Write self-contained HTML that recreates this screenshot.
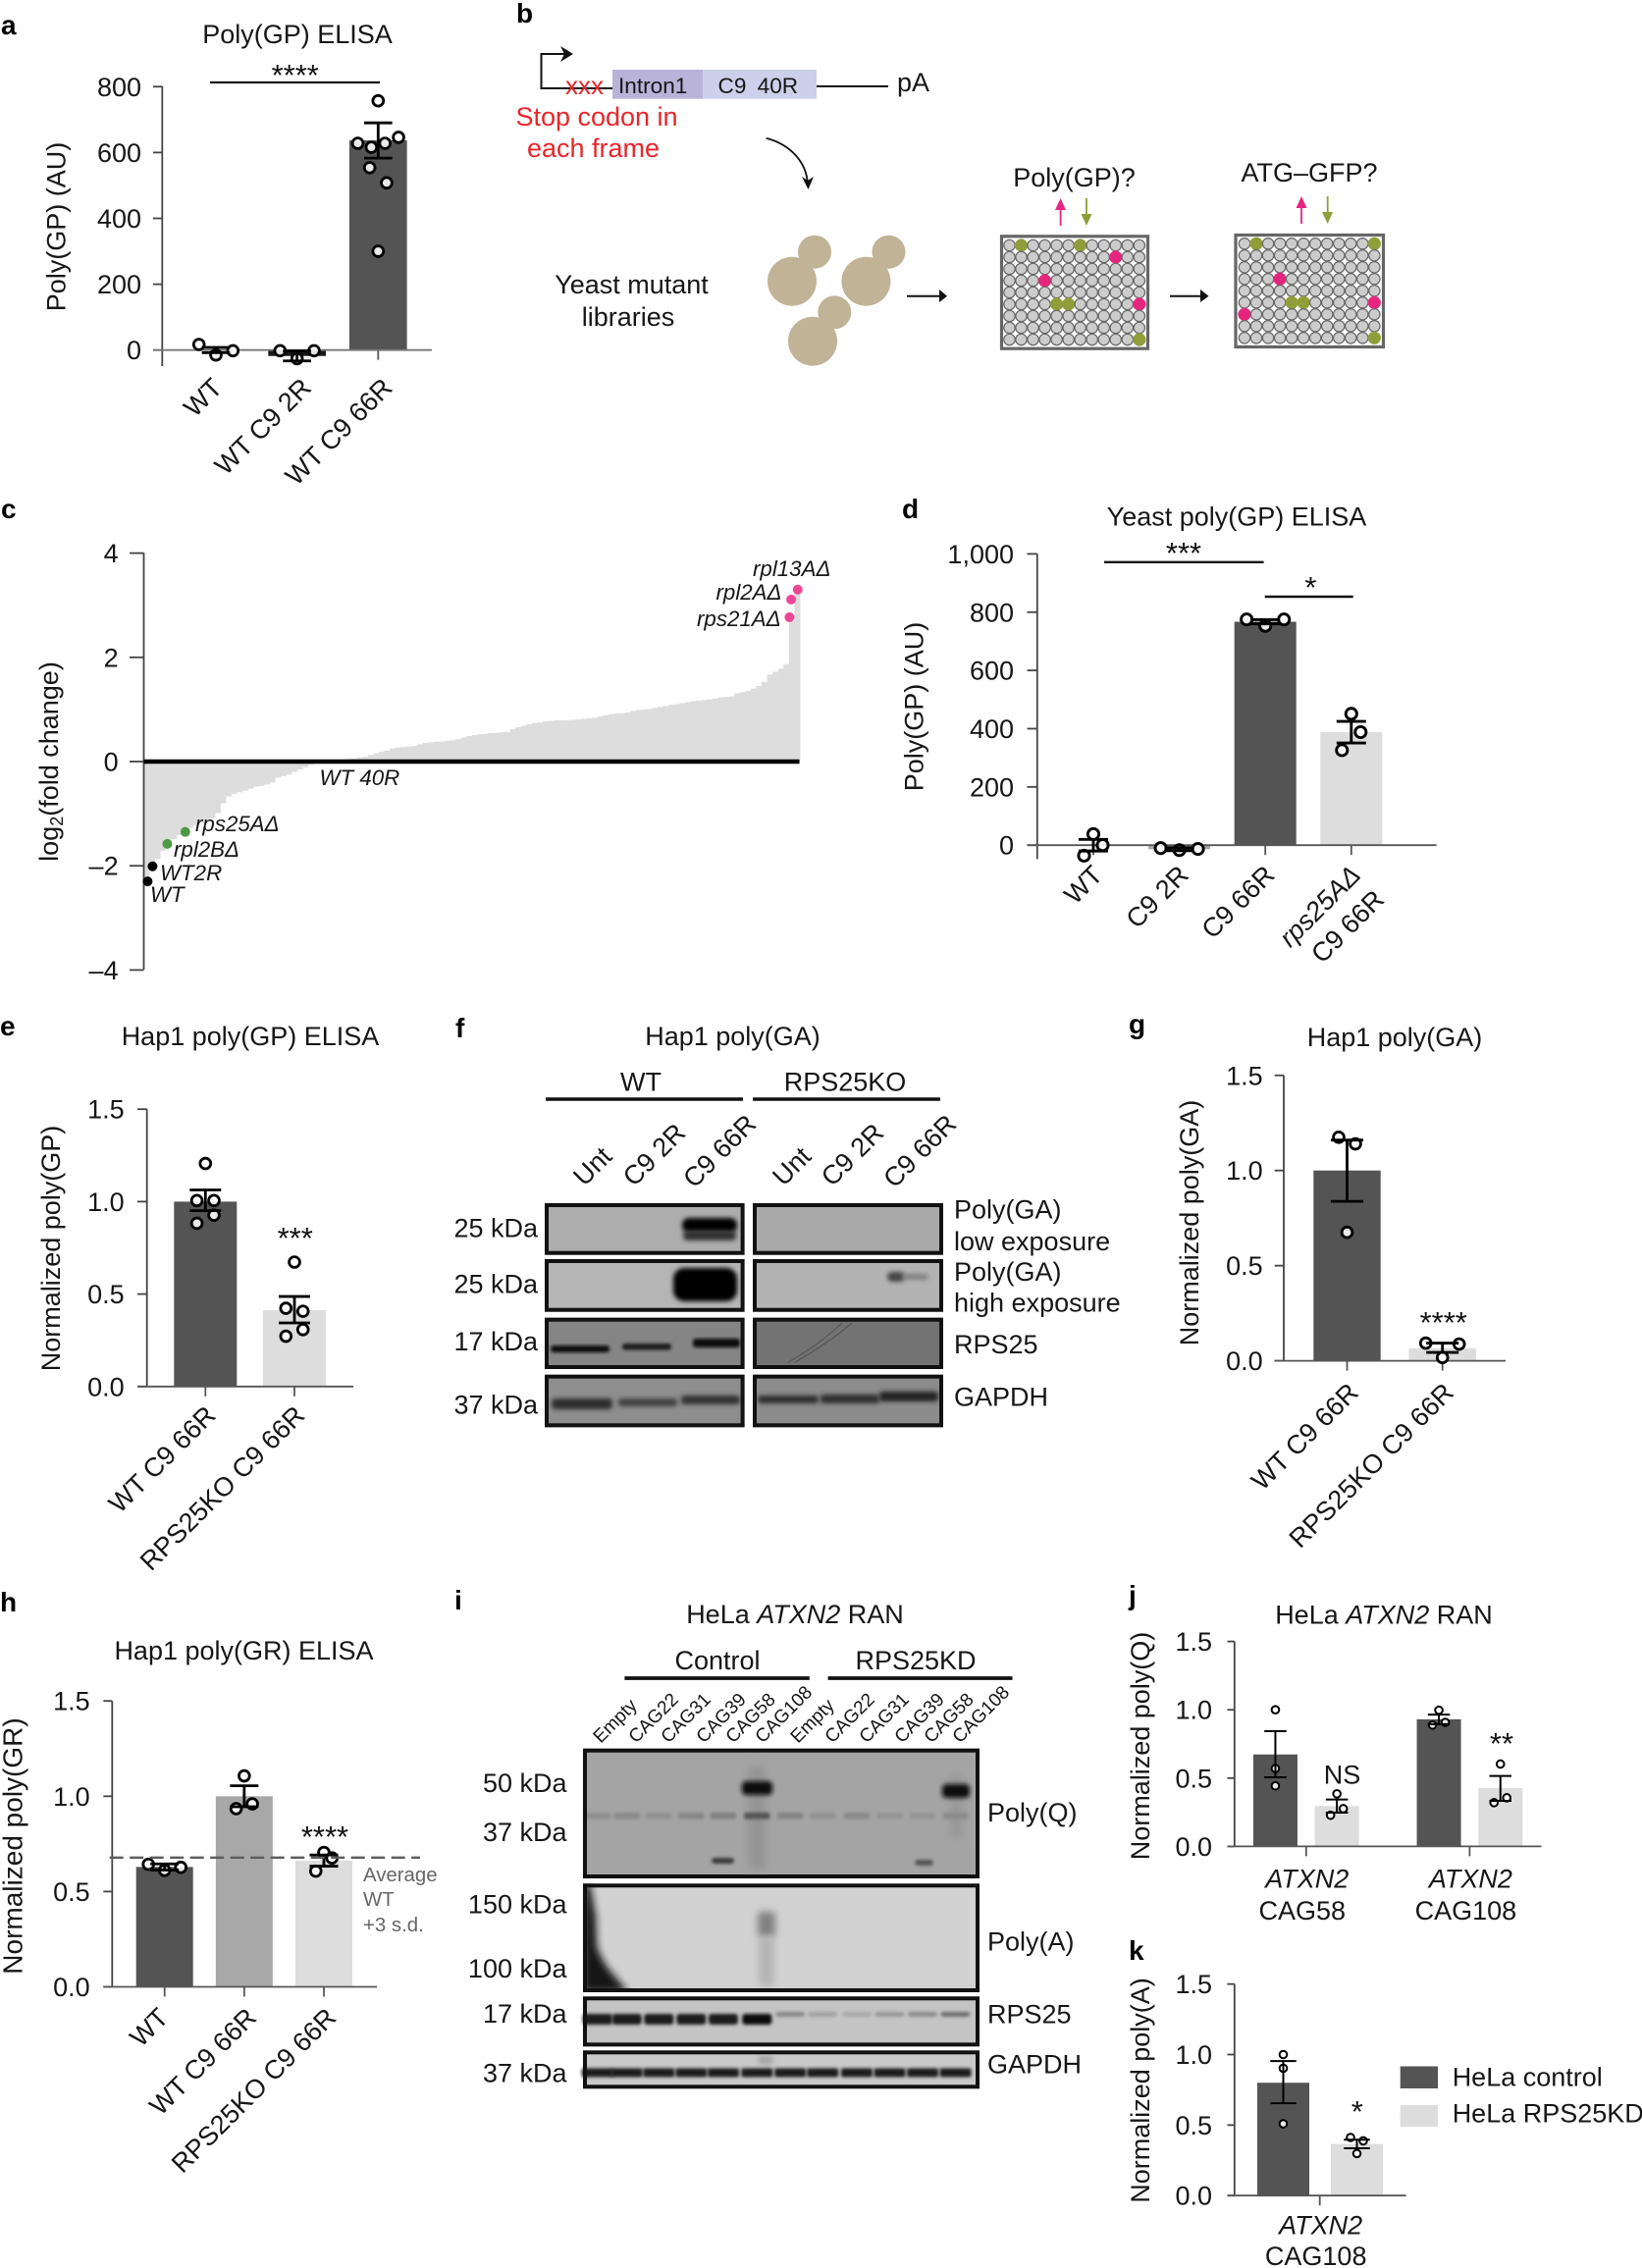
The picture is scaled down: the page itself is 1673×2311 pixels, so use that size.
<!DOCTYPE html>
<html lang="en">
<head>
<meta charset="utf-8">
<title>RPS25 figure</title>
<style>
html,body{margin:0;padding:0;background:#fff;}
svg{display:block;}
text{font-family:"Liberation Sans",sans-serif;font-size:27px;fill:#161616;}
.pl{font-weight:bold;font-size:28px;fill:#000;}
.it{font-style:italic;}
.ci{font-style:italic;font-size:22.3px;}
.st{font-size:31px;fill:#111;}
.mid{text-anchor:middle;}
.end{text-anchor:end;}
.sd{font-size:20.4px;fill:#666;}
</style>
</head>
<body>
<svg id="root" xmlns="http://www.w3.org/2000/svg" width="1673" height="2311" viewBox="0 0 1673 2311">
<defs>
<filter id="b1" x="-30%" y="-100%" width="160%" height="300%"><feGaussianBlur stdDeviation="1.5"/></filter>
<filter id="b2" x="-30%" y="-100%" width="160%" height="300%"><feGaussianBlur stdDeviation="2.4"/></filter>
<filter id="b4" x="-50%" y="-30%" width="200%" height="160%"><feGaussianBlur stdDeviation="4"/></filter>
<clipPath id="clipI2"><rect x="594" y="1919" width="404" height="111"/></clipPath>
</defs>
<rect x="0" y="0" width="1673" height="2311" fill="#fff"/>

<!-- panel labels -->
<text class="pl" x="1" y="35">a</text>
<text class="pl" x="526" y="23">b</text>
<text class="pl" x="1" y="528">c</text>
<text class="pl" x="919" y="528">d</text>
<text class="pl" x="0" y="1055">e</text>
<text class="pl" x="464" y="1057">f</text>
<text class="pl" x="1150" y="1053">g</text>
<text class="pl" x="0" y="1642">h</text>
<text class="pl" x="463" y="1640">i</text>
<text class="pl" x="1150" y="1635">j</text>
<text class="pl" x="1150" y="1997">k</text>

<!-- titles -->
<text class="mid" x="303" y="44">Poly(GP) ELISA</text>
<text class="mid" x="1260" y="535.6">Yeast poly(GP) ELISA</text>
<text class="mid" x="255" y="1065">Hap1 poly(GP) ELISA</text>
<text class="mid" x="746.5" y="1065">Hap1 poly(GA)</text>
<text class="mid" x="1421" y="1066">Hap1 poly(GA)</text>
<text class="mid" x="248.5" y="1691">Hap1 poly(GR) ELISA</text>
<text class="mid" x="810" y="1654">HeLa <tspan class="it">ATXN2</tspan> RAN</text>
<text class="mid" x="1410" y="1654.6">HeLa <tspan class="it">ATXN2</tspan> RAN</text>

<!-- y axis titles -->
<text class="mid" transform="translate(66.7,231) rotate(-90)">Poly(GP) (AU)</text>
<text class="mid" transform="translate(59,776) rotate(-90)">log<tspan dy="5" font-size="18">2</tspan><tspan dy="-5">(fold change)</tspan></text>
<text class="mid" transform="translate(940.5,720) rotate(-90)">Poly(GP) (AU)</text>
<text class="mid" transform="translate(61,1272) rotate(-90)">Normalized poly(GP)</text>
<text class="mid" transform="translate(1221,1246) rotate(-90)">Normalized poly(GA)</text>
<text class="mid" transform="translate(22.7,1881) rotate(-90)" style="font-size:28px">Normalized poly(GR)</text>
<text class="mid" transform="translate(1171,1779) rotate(-90)">Normalized poly(Q)</text>
<text class="mid" transform="translate(1171,2130) rotate(-90)">Normalized poly(A)</text>

<!-- significance -->
<line x1="214" x2="387" y1="84" y2="84" stroke="#111" stroke-width="2.2"/>
<text class="st mid" x="300.7" y="87">****</text>
<line x1="1125" x2="1287.6" y1="572.8" y2="572.8" stroke="#111" stroke-width="2.4"/>
<text class="st mid" x="1206" y="574">***</text>
<line x1="1288.7" x2="1378.7" y1="608" y2="608" stroke="#111" stroke-width="2.4"/>
<text class="st mid" x="1335.4" y="609">*</text>
<text class="st mid" x="300.7" y="1272">***</text>
<text class="st mid" x="1470.7" y="1358">****</text>
<text class="st mid" x="331" y="1882">****</text>
<text class="mid" x="1367.5" y="1817.6">NS</text>
<text class="st mid" x="1530" y="1787">**</text>
<text class="st mid" x="1382.8" y="2162">*</text>

<!-- threshold annotation h -->
<text class="sd" x="370" y="1917">Average</text>
<text class="sd" x="370" y="1942">WT</text>
<text class="sd" x="370" y="1968">+3 s.d.</text>

<!-- legend -->
<rect x="1426.7" y="2105.5" width="38.3" height="22.5" fill="#545454"/>
<rect x="1426.7" y="2145" width="38.3" height="22" fill="#dddddd"/>
<text x="1479.7" y="2125.6">HeLa control</text>
<text x="1479.7" y="2162.7">HeLa RPS25KD</text>

<!-- panel b schematic -->
<g>
<path d="M576 55H551.5V90H624" fill="none" stroke="#111" stroke-width="2"/>
<polygon points="571,47 584,55 571,63 575,55" fill="#111"/>
<rect x="624" y="71" width="92" height="29.7" fill="#b9b3d9"/>
<rect x="716" y="71" width="116" height="29.7" fill="#cdd0ea"/>
<line x1="832" x2="905" y1="88" y2="88" stroke="#111" stroke-width="2"/>
<text x="630" y="95" style="font-size:22.6px">Intron1</text>
<text x="731.5" y="95" style="font-size:22.6px;word-spacing:5px">C9 40R</text>
<text x="914" y="93">pA</text>
<text x="576" y="96" style="font-size:26px;fill:#e8262a">xxx</text>
<text class="mid" x="608" y="128" style="fill:#e8262a">Stop codon in</text>
<text class="mid" x="604.5" y="160" style="fill:#e8262a">each frame</text>
<path d="M780.6 140.7C805 147 822 165 823 188" fill="none" stroke="#111" stroke-width="1.8"/>
<polygon points="817,180 823.5,193 829,180 823,184" fill="#111"/>
<text class="mid" x="643.5" y="299">Yeast mutant</text>
<text class="mid" x="640" y="332">libraries</text>
<g fill="#c0b396">
<circle cx="830" cy="256.7" r="17"/>
<circle cx="807" cy="286.7" r="25"/>
<circle cx="905.5" cy="256.7" r="17"/>
<circle cx="882.4" cy="286.7" r="25"/>
<circle cx="850.3" cy="318.3" r="17"/>
<circle cx="828" cy="347.7" r="25"/>
</g>
<line x1="924" x2="960" y1="301.7" y2="301.7" stroke="#111" stroke-width="2"/>
<polygon points="957,295 965,301.7 957,308" fill="#111"/>
<line x1="1192" x2="1226" y1="301.7" y2="301.7" stroke="#111" stroke-width="2"/>
<polygon points="1223,295 1231.5,301.7 1223,308" fill="#111"/>
<text class="mid" x="1094.5" y="190">Poly(GP)?</text>
<text class="mid" x="1334" y="185">ATG–GFP?</text>
<line x1="1080.6" x2="1080.6" y1="210" y2="230" stroke="#e6267e" stroke-width="1.8"/>
<polygon points="1075,214 1080.6,202 1086,214" fill="#e6267e"/>
<line x1="1107" x2="1107" y1="202" y2="222" stroke="#8f9e38" stroke-width="1.8"/>
<polygon points="1101.5,218 1107,230 1112.5,218" fill="#8f9e38"/>
<line x1="1326" x2="1326" y1="208" y2="228" stroke="#e6267e" stroke-width="1.8"/>
<polygon points="1320.5,212 1326,200 1331.5,212" fill="#e6267e"/>
<line x1="1352.7" x2="1352.7" y1="200" y2="220" stroke="#8f9e38" stroke-width="1.8"/>
<polygon points="1347,216 1352.7,228 1358,216" fill="#8f9e38"/>
</g>
<g id="plates"></g>

<!-- panel f blots -->
<g>
<text class="mid" x="653" y="1111.7">WT</text>
<text class="mid" x="861" y="1111.7">RPS25KO</text>
<line x1="556" x2="757" y1="1120" y2="1120" stroke="#111" stroke-width="3.6"/>
<line x1="767" x2="958" y1="1120" y2="1120" stroke="#111" stroke-width="3.6"/>
<text class="end" transform="translate(625,1180) rotate(-45)">Unt</text>
<text class="end" transform="translate(700,1156) rotate(-45)">C9 2R</text>
<text class="end" transform="translate(772,1147) rotate(-45)">C9 66R</text>
<text class="end" transform="translate(828,1180) rotate(-45)">Unt</text>
<text class="end" transform="translate(902,1156) rotate(-45)">C9 2R</text>
<text class="end" transform="translate(976,1147) rotate(-45)">C9 66R</text>

<rect x="555" y="1226" width="203.6" height="52.7" fill="#adadad"/>
<rect x="695" y="1241" width="56" height="15" rx="7" fill="#050505" filter="url(#b2)"/>
<rect x="696" y="1254" width="54" height="10" rx="4" fill="#333" filter="url(#b2)"/>
<rect x="557" y="1228" width="199.6" height="48.7" fill="none" stroke="#111" stroke-width="4"/>
<rect x="767" y="1226" width="194" height="52.7" fill="#a9a9a9"/>
<rect x="769" y="1228" width="190" height="48.7" fill="none" stroke="#111" stroke-width="4"/>

<rect x="555" y="1283" width="203.6" height="53.7" fill="#b5b5b5"/>
<rect x="686" y="1292" width="65" height="34" rx="11" fill="#050505" filter="url(#b2)"/>
<rect x="557" y="1285" width="199.6" height="49.7" fill="none" stroke="#111" stroke-width="4"/>
<rect x="767" y="1283" width="194" height="53.7" fill="#b3b3b3"/>
<rect x="904" y="1296" width="18" height="10" rx="5" fill="#444" filter="url(#b2)"/>
<rect x="920" y="1298" width="26" height="6" rx="3" fill="#808080" filter="url(#b2)"/>
<rect x="769" y="1285" width="190" height="49.7" fill="none" stroke="#111" stroke-width="4"/>

<rect x="555" y="1342.7" width="203.6" height="52.3" fill="#858585"/>
<rect x="561" y="1371" width="60" height="7" rx="3" fill="#111" filter="url(#b1)"/>
<rect x="634" y="1369" width="50" height="6.5" rx="3" fill="#1a1a1a" filter="url(#b1)"/>
<rect x="706" y="1364" width="48" height="9" rx="3" fill="#0a0a0a" filter="url(#b1)"/>
<rect x="557" y="1344.7" width="199.6" height="48.3" fill="none" stroke="#111" stroke-width="4"/>
<rect x="767" y="1342.7" width="194" height="52.3" fill="#737373"/>
<path d="M803 1388Q835 1370 858 1348M810 1388Q845 1368 868 1348" fill="none" stroke="#555" stroke-width="1.2"/>
<rect x="769" y="1344.7" width="190" height="48.3" fill="none" stroke="#111" stroke-width="4"/>

<rect x="555" y="1400.7" width="203.6" height="53.6" fill="#8e8e8e"/>
<rect x="562" y="1425" width="62" height="11" rx="4" fill="#2e2e2e" filter="url(#b2)"/>
<rect x="630" y="1425" width="60" height="8" rx="3" fill="#3f3f3f" filter="url(#b2)"/>
<rect x="694" y="1422" width="60" height="9" rx="3" fill="#333" filter="url(#b2)"/>
<rect x="557" y="1402.7" width="199.6" height="49.6" fill="none" stroke="#111" stroke-width="4"/>
<rect x="767" y="1400.7" width="194" height="53.6" fill="#8c8c8c"/>
<rect x="772" y="1422" width="62" height="8" rx="3" fill="#2e2e2e" filter="url(#b2)"/>
<rect x="836" y="1421" width="60" height="9" rx="3" fill="#2e2e2e" filter="url(#b2)"/>
<rect x="896" y="1418" width="60" height="10" rx="3" fill="#222" filter="url(#b2)"/>
<rect x="769" y="1402.7" width="190" height="49.6" fill="none" stroke="#111" stroke-width="4"/>

<text class="end" x="548" y="1260.7">25 kDa</text>
<text class="end" x="548" y="1317.7">25 kDa</text>
<text class="end" x="548" y="1376">17 kDa</text>
<text class="end" x="548" y="1440.7">37 kDa</text>
<text x="972" y="1241.7">Poly(GA)</text>
<text x="972" y="1274">low exposure</text>
<text x="972" y="1305">Poly(GA)</text>
<text x="972" y="1336.7">high exposure</text>
<text x="972" y="1379">RPS25</text>
<text x="972" y="1432.7">GAPDH</text>
</g>

<!-- panel i blots -->
<g id="blotI">
<text class="mid" x="731" y="1701">Control</text>
<text class="mid" x="933" y="1701">RPS25KD</text>
<line x1="636.4" x2="824.8" y1="1710" y2="1710" stroke="#111" stroke-width="3.8"/>
<line x1="843.6" x2="1031.5" y1="1710" y2="1710" stroke="#111" stroke-width="3.8"/>
<rect x="594" y="1781.7" width="404" height="132.3" fill="#a4a4a4"/>
<rect x="594" y="1919.3" width="404" height="110.7" fill="#d2d2d2"/>
<rect x="594" y="2034.3" width="404" height="51" fill="#c4c4c4"/>
<rect x="594" y="2089.3" width="404" height="39" fill="#c9c9c9"/>
<path clip-path="url(#clipI2)" d="M594 1919H601L607 1953L608 1983Q615 2002 625 2012L640 2030H594Z" fill="#151515" filter="url(#b4)"/>
<rect x="762" y="1800" width="18" height="105" rx="4" fill="#949494" filter="url(#b4)"/>
<rect x="968" y="1808" width="13" height="65" rx="4" fill="#989898" filter="url(#b4)"/>
<rect x="772" y="1948" width="18" height="26" rx="4" fill="#808080" filter="url(#b4)"/>
<rect x="773" y="1974" width="16" height="50" rx="4" fill="#b4b4b4" filter="url(#b4)"/>
<rect x="772" y="2095" width="16" height="8" rx="4" fill="#a4a4a4" filter="url(#b2)"/>
<g id="blotIBands"></g>
<rect x="596" y="1783.7" width="400" height="128.3" fill="none" stroke="#111" stroke-width="4"/>
<rect x="596" y="1921.3" width="400" height="106.7" fill="none" stroke="#111" stroke-width="4"/>
<rect x="596" y="2036.3" width="400" height="47" fill="none" stroke="#111" stroke-width="4"/>
<rect x="596" y="2091.3" width="400" height="35" fill="none" stroke="#111" stroke-width="4"/>
<text class="end" x="577.5" y="1826">50 kDa</text>
<text class="end" x="577.5" y="1876">37 kDa</text>
<text class="end" x="577.5" y="1949.3">150 kDa</text>
<text class="end" x="577.5" y="2015">100 kDa</text>
<text class="end" x="577.5" y="2061">17 kDa</text>
<text class="end" x="577.5" y="2121.7">37 kDa</text>
<text x="1006" y="1856">Poly(Q)</text>
<text x="1006" y="1987.7">Poly(A)</text>
<text x="1006" y="2061.7">RPS25</text>
<text x="1006" y="2112.7">GAPDH</text>
</g>
</svg>

<script>
/* ---------- panel a data ---------- */
const aCategories = ['WT', 'WT C9 2R', 'WT C9 66R'];
const aMeans = [0, -18, 637];
const aUpper = [8, -3, 690];
const aLower = [-8, -33, 583];
const aPoints = [[[17, -15, -2]], [[-2, -26, -2]], [[757], [628, 616, 628, 646], [554, 508], [300]]];
const aTicks = [0, 200, 400, 600, 800];
const aTickLabels = ['0', '200', '400', '600', '800'];

/* ---------- panel c data ---------- */
const cValues = [-2.34,-2.06,-1.87,-1.71,-1.58,-1.49,-1.41,-1.33,-1.27,-1.22,-1.18,-1.13,-1.09,-0.99,-0.80,-0.67,-0.62,-0.59,-0.56,-0.52,
-0.48,-0.47,-0.44,-0.40,-0.31,-0.28,-0.25,-0.20,-0.15,-0.11,-0.06,-0.04,-0.03,-0.02,-0.01,0.02,0.04,0.05,0.06,0.08,
0.09,0.13,0.16,0.19,0.21,0.25,0.27,0.28,0.29,0.30,0.33,0.36,0.37,0.38,0.38,0.40,0.41,0.43,0.46,0.49,
0.51,0.52,0.53,0.55,0.55,0.56,0.57,0.62,0.66,0.69,0.72,0.74,0.75,0.77,0.78,0.79,0.79,0.79,0.80,0.81,
0.82,0.83,0.84,0.87,0.89,0.91,0.92,0.93,0.94,0.97,0.99,1.00,1.01,1.03,1.05,1.07,1.09,1.10,1.12,1.14,
1.16,1.17,1.18,1.19,1.21,1.23,1.24,1.25,1.31,1.33,1.36,1.40,1.45,1.53,1.67,1.72,1.78,1.87,2.69,3.29];
const cTicks = [-4, -2, 0, 2, 4];
const cTickLabels = ['–4', '–2', '0', '2', '4'];
const cHitNames = ['WT', 'WT2R', 'rpl2BΔ', 'rps25AΔ', 'rps21AΔ', 'rpl2AΔ', 'rpl13AΔ'];
const cHitRanks = [0.7, 1.6, 4.3, 7.6, 118.1, 118.4, 119.6];
const cHitValues = [-2.30, -2.01, -1.58, -1.35, 2.77, 3.11, 3.30];
const cHitColors = ['#000', '#000', '#4f9a45', '#4f9a45', '#ee4797', '#ee4797', '#ee4797'];

/* ---------- panel d data ---------- */
const dCategories = ['WT', 'C9 2R', 'C9 66R', 'rps25AΔ\nC9 66R'];
const dMeans = [0, -14, 767, 388];
const dUpper = [20, -9, 774, 425];
const dLower = [-20, -19, 760, 351];
const dPoints = [[[38], [-36, 0]], [[-10, -17, -13]], [[775, 753, 775]], [[451], [326, 388]]];
const dTicks = [0, 200, 400, 600, 800, 1000];
const dTickLabels = ['0', '200', '400', '600', '800', '1,000'];

/* ---------- panel e data ---------- */
const eCategories = ['WT C9 66R', 'RPS25KO C9 66R'];
const eMeans = [1.0, 0.413];
const eUpper = [1.063, 0.487];
const eLower = [0.951, 0.344];
const ePoints = [[[1.206], [1.006, 1.006], [0.883, 0.927]], [[0.673], [0.423, 0.407], [0.272, 0.308]]];
const eTicks = [0, 0.5, 1, 1.5];
const eTickLabels = ['0.0', '0.5', '1.0', '1.5'];

/* ---------- panel g data ---------- */
const gCategories = ['WT C9 66R', 'RPS25KO C9 66R'];
const gMeans = [1.0, 0.066];
const gUpper = [1.16, 0.093];
const gLower = [0.838, 0.044];
const gPoints = [[[1.175, 1.14], [0.675]], [[0.093, 0.017, 0.088]]];
const gTicks = [0, 0.5, 1, 1.5];
const gTickLabels = ['0.0', '0.5', '1.0', '1.5'];

/* ---------- panel h data ---------- */
const hCategories = ['WT', 'WT C9 66R', 'RPS25KO C9 66R'];
const hMeans = [0.629, 1.0, 0.662];
const hUpper = [0.645, 1.055, 0.692];
const hLower = [0.613, 0.945, 0.633];
const hPoints = [[[0.643, 0.611, 0.627]], [[1.107], [0.935, 0.96]], [[0.705], [0.607, 0.676]]];
const hTicks = [0, 0.5, 1, 1.5];
const hTickLabels = ['0.0', '0.5', '1.0', '1.5'];
const hThreshold = [0.678];

/* ---------- panel j data ---------- */
const jGroups = ['CAG58', 'CAG108'];
const jMeans = [0.673, 0.295, 0.93, 0.427];
const jUpper = [0.843, 0.343, 0.965, 0.516];
const jLower = [0.506, 0.247, 0.895, 0.333];
const jPoints = [[[1.0], [0.57], [0.443]], [[0.385], [0.228, 0.276]], [[0.997], [0.888, 0.908]], [[0.603], [0.32, 0.356]]];
const jTicks = [0, 0.5, 1, 1.5];
const jTickLabels = ['0.0', '0.5', '1.0', '1.5'];

/* ---------- panel k data ---------- */
const kGroups = ['CAG108'];
const kMeans = [0.80, 0.366];
const kUpper = [0.954, 0.396];
const kLower = [0.655, 0.335];
const kPoints = [[[1.0], [0.903], [0.509]], [[0.412, 0.388], [0.298]]];
const kTicks = [0, 0.5, 1, 1.5];
const kTickLabels = ['0.0', '0.5', '1.0', '1.5'];

/* ---------- helpers ---------- */
const NS = 'http://www.w3.org/2000/svg';
const root = document.getElementById('root');
const DARK = '#545454', MID = '#a8a8a8', LIGHT = '#dddddd';

function svgEl(tag, parent, attrs, text) {
  const el = document.createElementNS(NS, tag);
  for (const k in attrs) el.setAttribute(k, attrs[k]);
  if (text !== undefined) el.textContent = text;
  parent.appendChild(el);
  return el;
}

function drawYAxis(g, cfg, yOf) {
  const axis = svgEl('line', g, {x1: cfg.axisX, x2: cfg.axisX, y1: cfg.axisTop, y2: cfg.axisBottom, stroke: '#444', 'stroke-width': 1.8});
  
  
  cfg.ticks.forEach((t, i) => {
    const tick = svgEl('line', g, {x1: cfg.tickLeft, x2: cfg.axisX, y1: yOf(t), y2: yOf(t), stroke: '#444', 'stroke-width': 1.8});
    
    
    const lab = svgEl('text', g, {x: cfg.labelRight, y: yOf(t) + 9.5, 'text-anchor': 'end'}, cfg.tickLabels[i]);
    
    
  });
}

function drawBarPanel(cfg) {
  const g = svgEl('g', root, {});
  
  
  const yOf = v => cfg.zeroY - v * cfg.unit;

  cfg.means.forEach((m, i) => {
    const bar = svgEl('rect', g, {x: cfg.xOf(i) - cfg.barW / 2, y: Math.min(yOf(m), cfg.zeroY), width: cfg.barW, height: Math.abs(yOf(m) - cfg.zeroY), fill: cfg.fills[i]});
    
    
  });

  drawYAxis(g, cfg, yOf);
  const xAxis = svgEl('line', g, {x1: cfg.tickLeft, x2: cfg.axisRight, y1: cfg.zeroY, y2: cfg.zeroY, stroke: cfg.xAxisColor || '#555', 'stroke-width': 1.8});
  
  

  cfg.tickXs().forEach(tx => {
    const tick = svgEl('line', g, {x1: tx, x2: tx, y1: cfg.zeroY, y2: cfg.zeroY + 10, stroke: '#555', 'stroke-width': 1.8});
    
    
  });

  cfg.points.forEach((rows, i) => {
    rows.forEach(row => {
      const gap = row.length >= 4 ? cfg.spacing * 0.8 : cfg.spacing;
      row.forEach((v, k) => {
        const dot = svgEl('circle', g, {cx: cfg.xOf(i) + (k - (row.length - 1) / 2) * gap, cy: yOf(v), r: cfg.r, fill: 'rgba(255,255,255,0.87)', stroke: '#000', 'stroke-width': cfg.sw});
        
        
      });
    });
  });

  cfg.means.forEach((m, i) => {
    const cx = cfg.xOf(i);
    const stem = svgEl('line', g, {x1: cx, x2: cx, y1: yOf(cfg.upper[i]), y2: yOf(cfg.lower[i]), stroke: '#000', 'stroke-width': cfg.sw});
    
    
    [cfg.upper[i], cfg.lower[i]].forEach(v => {
      const cap = svgEl('line', g, {x1: cx - cfg.capW / 2, x2: cx + cfg.capW / 2, y1: yOf(v), y2: yOf(v), stroke: '#000', 'stroke-width': cfg.sw});
      
      
    });
  });

  (cfg.categories || []).forEach((name, i) => {
    const lines = name.split('\n');
    const shift = name.length <= 2 ? cfg.shortShift : 0;
    lines.forEach((line, k) => {
      const ex = cfg.xOf(i) + cfg.labelDx - shift + k * 24;
      const ey = cfg.zeroY + cfg.labelDy + k * 25;
      const lab = svgEl('text', g, {'text-anchor': 'end', transform: 'translate(' + ex + ',' + ey + ') rotate(-45)'}, line);
      
      
      if (lines.length > 1 && k === 0) lab.setAttribute('font-style', 'italic');
    });
  });
  return {g, yOf};
}

/* ---------- bar panels ---------- */
drawBarPanel({categories: aCategories, means: aMeans, upper: aUpper, lower: aLower, points: aPoints, ticks: aTicks, tickLabels: aTickLabels,
  fills: [DARK, '#1a1a1a', DARK], xOf: i => 220 + i * 82.65, tickXs: () => aCategories.map((c, i) => 220 + i * 82.65),
  axisX: 165.3, axisTop: 88, axisBottom: 373, tickLeft: 156, labelRight: 144, axisRight: 440, xAxisColor: '#777',
  zeroY: 356.7, unit: 0.3355, barW: 58.7, capW: 28.7, r: 5.4, sw: 2.8, spacing: 17.3, labelDx: 16, labelDy: 40, shortShift: 8});

drawBarPanel({categories: dCategories, means: dMeans, upper: dUpper, lower: dLower, points: dPoints, ticks: dTicks, tickLabels: dTickLabels,
  fills: [DARK, MID, DARK, LIGHT], xOf: i => 1114 + i * 87.6, tickXs: () => dCategories.map((c, i) => 1114 + i * 87.6),
  axisX: 1056.8, axisTop: 564.4, axisBottom: 875.4, tickLeft: 1046.5, labelRight: 1033, axisRight: 1463.6,
  zeroY: 861.2, unit: 0.2968, barW: 63, capW: 30, r: 5.6, sw: 2.9, spacing: 19, labelDx: 11, labelDy: 32, shortShift: 0});

drawBarPanel({categories: eCategories, means: eMeans, upper: eUpper, lower: eLower, points: ePoints, ticks: eTicks, tickLabels: eTickLabels,
  fills: [DARK, LIGHT], xOf: i => 209.3 + i * 90.7, tickXs: () => eCategories.map((c, i) => 209.3 + i * 90.7),
  axisX: 149.7, axisTop: 1130.2, axisBottom: 1412.8, tickLeft: 140, labelRight: 126.7, axisRight: 360,
  zeroY: 1412.8, unit: 188.4, barW: 64, capW: 32, r: 5.4, sw: 2.8, spacing: 17.4, labelDx: 12, labelDy: 31, shortShift: 0});

drawBarPanel({categories: gCategories, means: gMeans, upper: gUpper, lower: gLower, points: gPoints, ticks: gTicks, tickLabels: gTickLabels,
  fills: [DARK, LIGHT], xOf: i => 1372.5 + i * 97.2, tickXs: () => gCategories.map((c, i) => 1372.5 + i * 97.2),
  axisX: 1308, axisTop: 1095.8, axisBottom: 1386.6, tickLeft: 1298.7, labelRight: 1286.7, axisRight: 1534,
  zeroY: 1386.6, unit: 193.9, barW: 68.4, capW: 33, r: 5.4, sw: 2.8, spacing: 17, labelDx: 13, labelDy: 34, shortShift: 0});

const hChart = drawBarPanel({categories: hCategories, means: hMeans, upper: hUpper, lower: hLower, points: hPoints, ticks: hTicks, tickLabels: hTickLabels,
  fills: [DARK, MID, LIGHT], xOf: i => 167.7 + i * 81.15, tickXs: () => hCategories.map((c, i) => 167.7 + i * 81.15),
  axisX: 114.3, axisTop: 1733.2, axisBottom: 2024.5, tickLeft: 105.3, labelRight: 91.7, axisRight: 384,
  zeroY: 2024.5, unit: 194.2, barW: 58, capW: 29, r: 5.4, sw: 2.8, spacing: 16.5, labelDx: 14, labelDy: 33, shortShift: 8.5});

hThreshold.forEach(v => {
  const dash = svgEl('line', hChart.g, {x1: 111.7, x2: 428, y1: hChart.yOf(v), y2: hChart.yOf(v), stroke: '#5c5c5c', 'stroke-width': 2.4, 'stroke-dasharray': '14 6.5'});
  
  
});

const jGroupX = g => 1330.8 + g * 166.6;
const jBarX = i => jGroupX(Math.floor(i / 2)) + (i % 2 ? 31.35 : -31.35);
drawBarPanel({means: jMeans, upper: jUpper, lower: jLower, points: jPoints, ticks: jTicks, tickLabels: jTickLabels,
  fills: [DARK, LIGHT, DARK, LIGHT], xOf: jBarX, tickXs: () => jGroups.map((c, i) => jGroupX(i)),
  axisX: 1257.8, axisTop: 1672.5, axisBottom: 1881.4, tickLeft: 1250.5, labelRight: 1235, axisRight: 1570.4,
  zeroY: 1881.4, unit: 139.2, barW: 45, capW: 22.5, r: 3.8, sw: 2, spacing: 13, labelDx: 0, labelDy: 0, shortShift: 0});

jGroups.forEach((name, i) => {
  const a = svgEl('text', root, {x: jGroupX(i) + 1, y: 1923.4, 'text-anchor': 'middle', 'font-style': 'italic'}, 'ATXN2');
  
  
  const b = svgEl('text', root, {x: jGroupX(i) - 4, y: 1956, 'text-anchor': 'middle'}, name);
  
  
});

const kGroupX = g => 1344.7 + g * 150;
const kBarX = i => kGroupX(Math.floor(i / 2)) + (i % 2 ? 37.8 : -37.2);
drawBarPanel({means: kMeans, upper: kUpper, lower: kLower, points: kPoints, ticks: kTicks, tickLabels: kTickLabels,
  fills: [DARK, LIGHT], xOf: kBarX, tickXs: () => kGroups.map((c, i) => kGroupX(i)),
  axisX: 1257.8, axisTop: 2021.6, axisBottom: 2237.2, tickLeft: 1250.5, labelRight: 1235, axisRight: 1432.6,
  zeroY: 2237.2, unit: 143.7, barW: 53, capW: 26.5, r: 3.8, sw: 2, spacing: 13, labelDx: 0, labelDy: 0, shortShift: 0});

kGroups.forEach((name, i) => {
  const a = svgEl('text', root, {x: kGroupX(i) + 1, y: 2276.5, 'text-anchor': 'middle', 'font-style': 'italic'}, 'ATXN2');
  
  
  const b = svgEl('text', root, {x: kGroupX(i) - 4, y: 2308, 'text-anchor': 'middle'}, name);
  
  
});

/* ---------- panel c waterfall ---------- */
(function drawWaterfall() {
  const g = svgEl('g', root, {});
  
  
  const plotLeft = 146.5, plotWidth = 668.5, zeroY = 776, unit = 53.1;
  const xOf = rank => plotLeft + rank * plotWidth / cValues.length;
  const yOf = v => zeroY - v * unit;
  cValues.forEach((v, i) => {
    const bar = svgEl('rect', g, {x: xOf(i), y: Math.min(yOf(v), zeroY), width: plotWidth / cValues.length + 0.4, height: Math.abs(yOf(v) - zeroY), fill: '#dddddd'});
    
    
  });
  drawYAxis(g, {axisX: plotLeft, axisTop: 563.3, axisBottom: 988, ticks: cTicks, tickLabels: cTickLabels, tickLeft: 132, labelRight: 120.6}, yOf);
  const zero = svgEl('line', g, {x1: plotLeft, x2: 814.5, y1: zeroY, y2: zeroY, stroke: '#000', 'stroke-width': 4.6});
  
  
  cHitNames.forEach((name, i) => {
    const dot = svgEl('ellipse', g, {cx: xOf(cHitRanks[i]), cy: yOf(cHitValues[i]), rx: 5, ry: 5, fill: cHitColors[i]});
    
    
  });
})();

/* annotation labels for panel c */
[['rpl13AΔ', 767, 587], ['rpl2AΔ', 729.5, 611], ['rps21AΔ', 710, 638], ['WT 40R', 325.5, 800], ['rps25AΔ', 199, 847], ['rpl2BΔ', 177, 873], ['WT2R', 163, 897], ['WT', 153, 919]].forEach(item => {
  const t = svgEl('text', root, {x: item[1], y: item[2], class: 'ci'}, item[0]);
  
  
});

/* ---------- schematic plates ---------- */
const platesG = document.getElementById('plates');
function drawPlate(px, py, pw, ph, sx, sy, olive, magenta) {
  const frame = svgEl('rect', platesG, {x: px, y: py, width: pw, height: ph, fill: '#fff', stroke: '#666', 'stroke-width': 3.2});
  
  
  for (let r = 0; r < 9; r++) {
    for (let c = 0; c < 12; c++) {
      const isO = olive.some(p => p[0] === c && p[1] === r);
      const isM = magenta.some(p => p[0] === c && p[1] === r);
      const well = svgEl('circle', platesG, {cx: sx + c * 12.03, cy: sy + r * 12, r: isO || isM ? 6.6 : 5.7, fill: isO ? '#8f9e38' : isM ? '#e6267e' : '#cccccc', stroke: isO || isM ? 'none' : '#666', 'stroke-width': 1.2});
      
      
    }
  }
}
drawPlate(1020.5, 240.8, 149, 114.4, 1028.5, 250, [[1, 0], [6, 0], [4, 5], [5, 5], [11, 8]], [[9, 1], [3, 3], [11, 5]]);
drawPlate(1259, 239.5, 150.5, 114, 1268, 248.3, [[1, 0], [11, 0], [4, 5], [5, 5], [11, 8]], [[3, 3], [11, 5], [0, 6]]);

/* ---------- panel i lanes ---------- */
const blotBands = document.getElementById('blotIBands');
const blotI = document.getElementById('blotI');
const laneCenters = [608.8, 638.7, 671.3, 704.3, 736.9, 771.3, 805.2, 838.2, 873, 906.5, 940, 973.5];
const laneNames = ['Empty', 'CAG22', 'CAG31', 'CAG39', 'CAG58', 'CAG108', 'Empty', 'CAG22', 'CAG31', 'CAG39', 'CAG58', 'CAG108'];
const laneStarts = [612, 648, 681, 717, 747, 777, 813, 848, 883, 919, 949, 978];
const rps25Shades = ['#1c1c1c', '#1c1c1c', '#1c1c1c', '#1c1c1c', '#1c1c1c', '#111', '#888', '#a0a0a0', '#a8a8a8', '#989898', '#8c8c8c', '#707070'];
const faintShades = ['#8e8e8e', '#898989', '#909090', '#868686', '#808080', '#555', '#848484', '#929292', '#898989', '#949494', '#949494', '#8a8a8a'];
laneCenters.forEach((cx, i) => {
  const lab = svgEl('text', blotI, {x: laneStarts[i], y: 1777, style: 'font-size:19px', transform: 'rotate(-45 ' + laneStarts[i] + ' 1777)'}, laneNames[i]);
  
  
  const faint = svgEl('rect', blotBands, {x: cx - 13, y: 1847, width: 26, height: 6.5, fill: faintShades[i], filter: 'url(#b1)'});
  
  
  const rps = svgEl('rect', blotBands, {x: cx - 15, y: i < 6 ? 2052 : 2050, width: 30, height: i < 6 ? 11 : 5, rx: 3, fill: rps25Shades[i], filter: 'url(#b1)'});
  
  
  const gapdh = svgEl('rect', blotBands, {x: cx - 16, y: 2107.5, width: 32, height: 9, rx: 2, fill: '#1e1e1e', filter: 'url(#b1)'});
  
  
});
[[756, 1815, 31, 14, '#0c0c0c', 'b2'], [960, 1818, 28, 14, '#0c0c0c', 'b2'], [725, 1893, 23, 6, '#3a3a3a', 'b1'], [932, 1895, 19, 6, '#555', 'b1']].forEach(s => {
  const band = svgEl('rect', blotBands, {x: s[0], y: s[1], width: s[2], height: s[3], rx: 4, fill: s[4], filter: 'url(#' + s[5] + ')'});
  
  
});
</script>
</body>
</html>
